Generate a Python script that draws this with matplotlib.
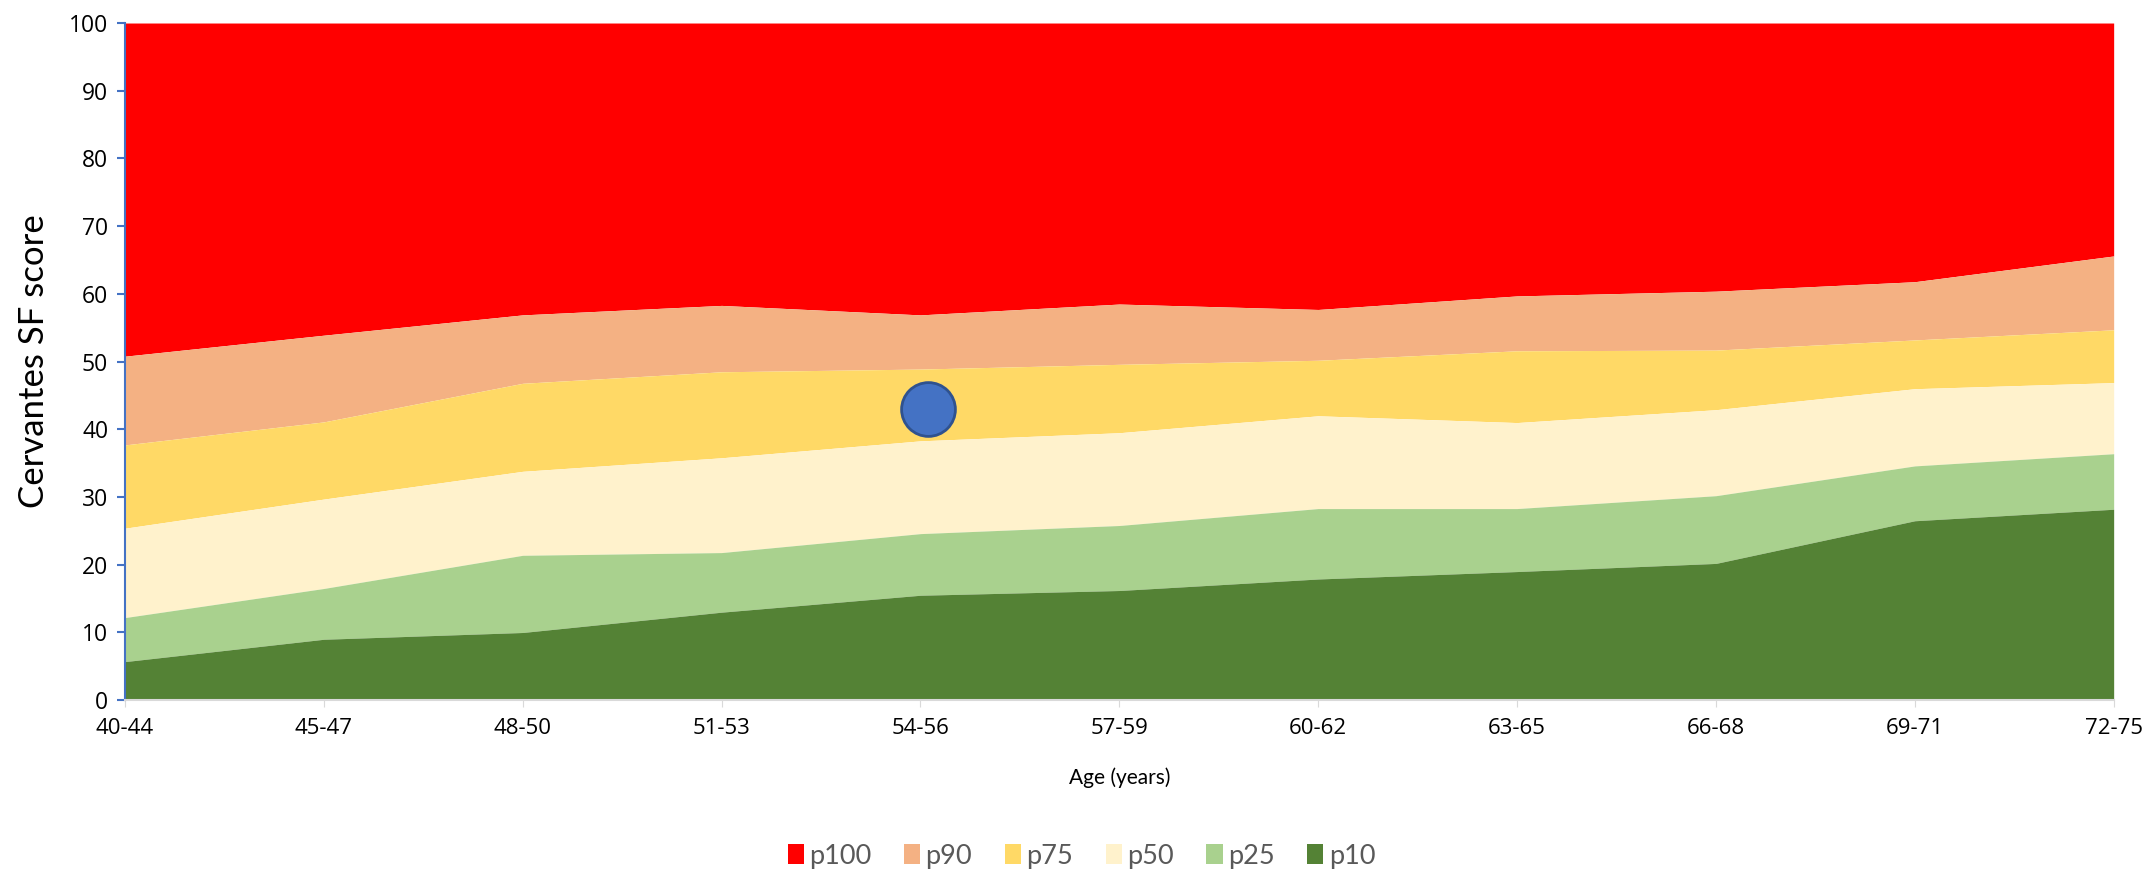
import numpy as np
import matplotlib.pyplot as plt
from matplotlib.patches import Patch

# age groups on the x axis
ages = ['40-44', '45-47', '48-50', '51-53', '54-56', '57-59',
        '60-62', '63-65', '66-68', '69-71', '72-75']

# percentile curves (Cervantes SF score)
p10 = [5.7, 9.0, 10.0, 13.0, 15.5, 16.2, 17.9, 19.0, 20.2, 26.5, 28.2]
p25 = [12.2, 16.5, 21.4, 21.8, 24.6, 25.8, 28.3, 28.3, 30.2, 34.6, 36.4]
p50 = [25.4, 29.7, 33.8, 35.8, 38.3, 39.5, 42.0, 41.0, 42.9, 46.0, 46.9]
p75 = [37.7, 41.1, 46.8, 48.5, 48.9, 49.6, 50.2, 51.6, 51.7, 53.2, 54.7]
p90 = [50.8, 53.9, 56.9, 58.3, 56.9, 58.5, 57.7, 59.7, 60.4, 61.8, 65.6]
p100 = [100] * 11

labels = ['p100', 'p90', 'p75', 'p50', 'p25', 'p10']
colors = ['#FF0000', '#F4B183', '#FFD966', '#FFF2CC', '#A9D18E', '#548235']

# the patient marker
pt_x = 4.04
pt_y = 43

plt.rcParams['font.family'] = ['Open Sans', 'DejaVu Sans']

fig = plt.figure(figsize=(21.5, 8.72), dpi=100)
ax = fig.add_axes([0.0581, 0.197, 0.925, 0.7766])

x = np.arange(len(ages))
curves = [p100, p90, p75, p50, p25, p10]
lowers = [p90, p75, p50, p25, p10, [0] * 11]
for up, lo, c in zip(curves, lowers, colors):
    ax.fill_between(x, lo, up, color=c, linewidth=0)

ax.scatter([pt_x], [pt_y], s=1500, color='#4472C4', edgecolor='#2F528F',
           linewidth=2, zorder=5)

ax.set_xlim(0, len(ages) - 1)
ax.set_ylim(0, 100)
ax.set_xticks(x)
ax.set_xticklabels(ages, fontsize=16)
ax.set_yticks(np.arange(0, 101, 10))
ax.tick_params(axis='y', labelsize=16.5, color='#4472C4', length=6, width=1.5, pad=6)
ax.tick_params(axis='x', color='#D9D9D9', length=5, pad=8)

for s in ['top', 'right']:
    ax.spines[s].set_visible(False)
ax.spines['left'].set_color('#4472C4')
ax.spines['left'].set_linewidth(1.5)
ax.spines['bottom'].set_color('#D9D9D9')
ax.spines['bottom'].set_linewidth(1.5)

ax.set_ylabel('Cervantes SF score', fontsize=25, family=['Lato', 'DejaVu Sans'],
              labelpad=14)
ax.set_xlabel('Age (years)', fontsize=15, family=['Lato', 'DejaVu Sans'],
              labelpad=20)

handles = [Patch(facecolor=c, edgecolor='none') for c in colors]
leg = fig.legend(handles, labels, loc='lower center', ncol=6, frameon=False,
                 bbox_to_anchor=(0.503, -0.024),
                 prop={'family': ['Lato', 'DejaVu Sans'], 'size': 19.5},
                 handlelength=0.6, handleheight=0.75, columnspacing=1.2,
                 handletextpad=0.2)
for t in leg.get_texts():
    t.set_color('#595959')

fig.savefig('out.png', dpi=100)
